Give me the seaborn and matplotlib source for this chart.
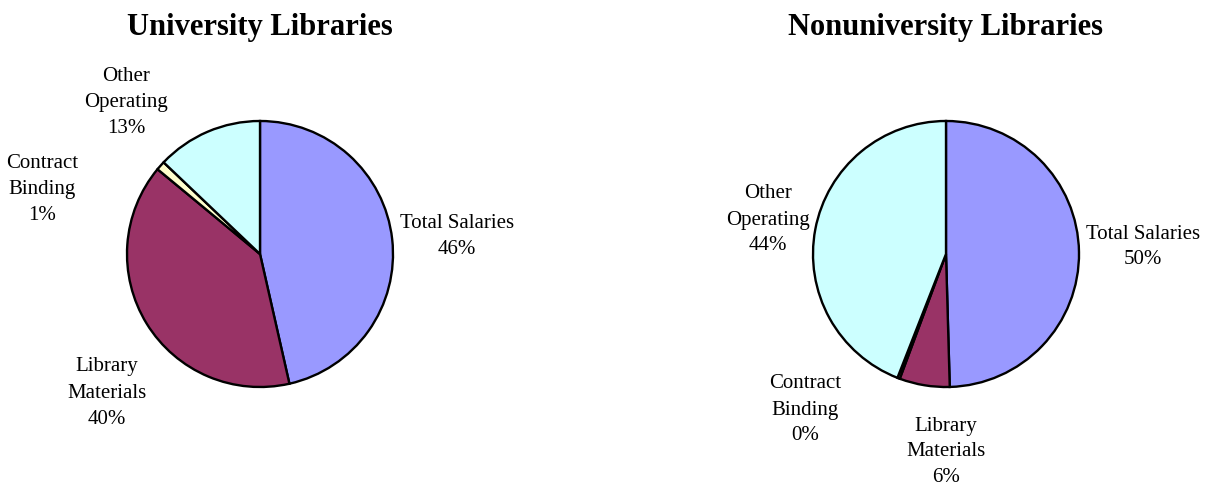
import matplotlib
matplotlib.use("Agg")
import matplotlib.pyplot as plt
import seaborn as sns

sns.set_theme(style="white")
plt.rcParams['font.family'] = ['Liberation Serif', 'DejaVu Serif']

categories = ["Total Salaries", "Library Materials", "Contract Binding", "Other Operating"]
label_names = ["Total Salaries", "Library\nMaterials", "Contract\nBinding", "Other\nOperating"]
univ_values = [46.45, 39.55, 1.1, 12.9]
univ_pct_labels = ["46%", "40%", "1%", "13%"]
nonuniv_values = [49.55, 6.1, 0.3, 44.05]
nonuniv_pct_labels = ["50%", "6%", "0%", "44%"]
titles = ["University Libraries", "Nonuniversity Libraries"]
colors = ["#9999FF", "#993366", "#FFFFCC", "#CCFFFF"]

W, H = 1210, 488
fig = plt.figure(figsize=(W / 100, H / 100), dpi=100)
R = 133.0  # pie radius in px

# layout: pie centres (px) and label centres (px)
centers = [(260, 254), (946, 254)]
label_pos = [
    [(457, 237), (107, 393), (42, 189), (126, 102)],
    [(1143, 247), (946, 452), (805, 410), (768, 220)],
]
panels = [(0, 605), (605, 1210)]

for i, (vals, pcts) in enumerate([(univ_values, univ_pct_labels),
                                   (nonuniv_values, nonuniv_pct_labels)]):
    x0, x1 = panels[i]
    cx, cy = centers[i]
    ax = fig.add_axes([x0 / W, 0, (x1 - x0) / W, 1])
    ax.pie(vals, colors=colors, startangle=90, counterclock=False,
           radius=1.0, center=(0, 0),
           wedgeprops=dict(edgecolor="black", linewidth=1.7))
    ax.set_xlim(-(cx - x0) / R, (x1 - cx) / R)
    ax.set_ylim(-(H - cy) / R, cy / R)
    ax.set_aspect("equal")
    ax.axis("off")
    for (lx, ly), name, p in zip(label_pos[i], label_names, pcts):
        fig.text(lx / W, 1 - ly / H, f"{name}\n{p}", ha="center", va="center",
                 fontsize=15, linespacing=1.5, color="black")
    fig.text(cx / W, 1 - 28 / H, titles[i], ha="center", va="center",
             fontsize=22, fontweight="bold", color="black")

fig.savefig("out.png", dpi=100)
